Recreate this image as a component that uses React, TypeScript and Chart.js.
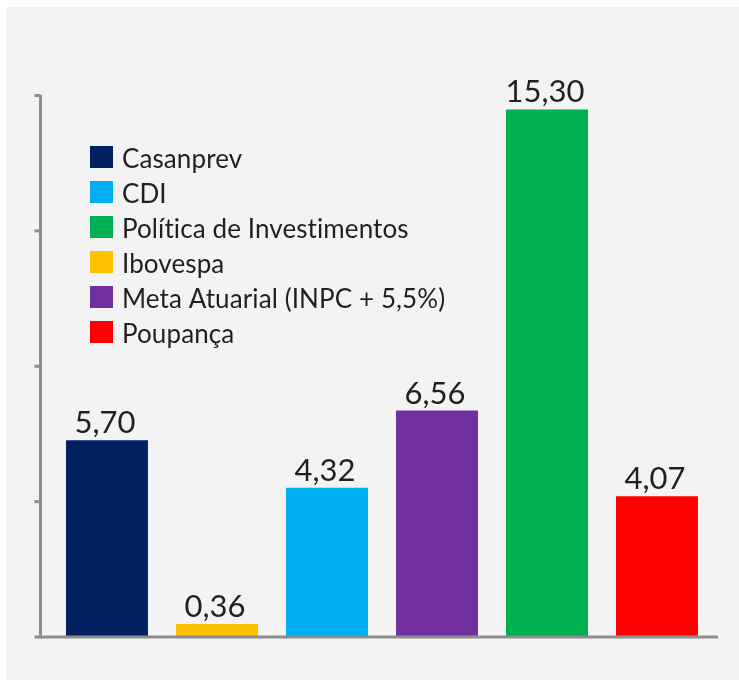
import React, { useEffect, useRef } from "react";
import { Chart, registerables } from "chart.js";

Chart.register(...registerables);

const categories = [
  "Casanprev",
  "Ibovespa",
  "CDI",
  "Meta Atuarial (INPC + 5,5%)",
  "Política de Investimentos",
  "Poupança",
];
const values = [5.7, 0.36, 4.32, 6.56, 15.3, 4.07];
const barColors = ["#002060", "#FFC000", "#00B0F0", "#7030A0", "#00B050", "#FF0000"];
const legendOrder = [
  "Casanprev",
  "CDI",
  "Política de Investimentos",
  "Ibovespa",
  "Meta Atuarial (INPC + 5,5%)",
  "Poupança",
];
const yMax = 15.72;
const yStep = 3.93;

const FONT = "Lato, 'Liberation Sans', sans-serif";
const AXIS_COLOR = "#8e8e8e";
const TEXT_COLOR = "#231f20";

const fmt = (v: number) => v.toFixed(2).replace(".", ",");

const axesPlugin = {
  id: "customAxes",
  afterDatasetsDraw(chart: any) {
    const { ctx, chartArea, scales } = chart;
    const y = scales.y;
    const axisX = chartArea.left - 11.5;
    const y0 = y.getPixelForValue(0) + 0.5;
    const yTop = y.getPixelForValue(yMax);
    ctx.save();
    ctx.strokeStyle = AXIS_COLOR;
    ctx.lineWidth = 3;
    ctx.beginPath();
    ctx.moveTo(axisX, yTop);
    ctx.lineTo(axisX, y0 + 1.5);
    ctx.stroke();
    ctx.beginPath();
    ctx.moveTo(axisX - 6, y0);
    ctx.lineTo(chartArea.right + 6, y0);
    ctx.stroke();
    for (let v = yStep; v <= yMax + 1e-6; v += yStep) {
      const py = y.getPixelForValue(v) + 0.5;
      ctx.beginPath();
      ctx.moveTo(axisX - 6, py);
      ctx.lineTo(axisX, py);
      ctx.stroke();
    }
    ctx.restore();
  },
};

const labelsPlugin = {
  id: "valueLabels",
  afterDatasetsDraw(chart: any) {
    const { ctx } = chart;
    const meta = chart.getDatasetMeta(0);
    ctx.save();
    ctx.font = `31px ${FONT}`;
    ctx.fillStyle = TEXT_COLOR;
    ctx.textAlign = "center";
    ctx.textBaseline = "alphabetic";
    meta.data.forEach((bar: any, i: number) => {
      ctx.fillText(fmt(values[i]), bar.x - 2, bar.y - 7);
    });
    ctx.restore();
  },
};

const legendPlugin = {
  id: "innerLegend",
  afterDraw(chart: any) {
    const { ctx, chartArea } = chart;
    const x0 = chartArea.left + 38;
    const top0 = chartArea.top + 51;
    const rowH = 35;
    ctx.save();
    ctx.font = `26px ${FONT}`;
    try {
      (ctx as any).letterSpacing = "0.1px";
    } catch (e) {}
    ctx.textAlign = "left";
    ctx.textBaseline = "alphabetic";
    legendOrder.forEach((name, i) => {
      const idx = categories.indexOf(name);
      const t = top0 + i * rowH;
      ctx.fillStyle = barColors[idx];
      ctx.fillRect(x0, t, 23, 22);
      ctx.fillStyle = TEXT_COLOR;
      ctx.fillText(name, x0 + 32, t + 22);
    });
    ctx.restore();
  },
};

export default function App() {
  const canvasRef = useRef<HTMLCanvasElement | null>(null);

  useEffect(() => {
    if (!canvasRef.current) return;
    const chart = new Chart(canvasRef.current, {
      type: "bar",
      data: {
        labels: categories,
        datasets: [
          {
            data: values,
            backgroundColor: barColors,
            borderWidth: 0,
            barPercentage: 0.745,
            categoryPercentage: 1,
          },
        ],
      },
      options: {
        responsive: false,
        animation: false,
        devicePixelRatio: 1,
        layout: { padding: { left: 46, right: 27, top: 88, bottom: 43.5 } },
        plugins: {
          legend: { display: false },
          tooltip: { enabled: false },
        },
        scales: {
          x: { display: false },
          y: { display: false, min: 0, max: yMax, ticks: { stepSize: yStep } },
        },
      },
      plugins: [axesPlugin, labelsPlugin, legendPlugin],
    });
    return () => chart.destroy();
  }, []);

  return (
    <div
      style={{
        position: "absolute",
        left: 6,
        top: 7,
        width: 733,
        height: 673,
        background: "#f3f3f3",
      }}
    >
      <canvas ref={canvasRef} width={733} height={673} style={{ display: "block" }} />
    </div>
  );
}
